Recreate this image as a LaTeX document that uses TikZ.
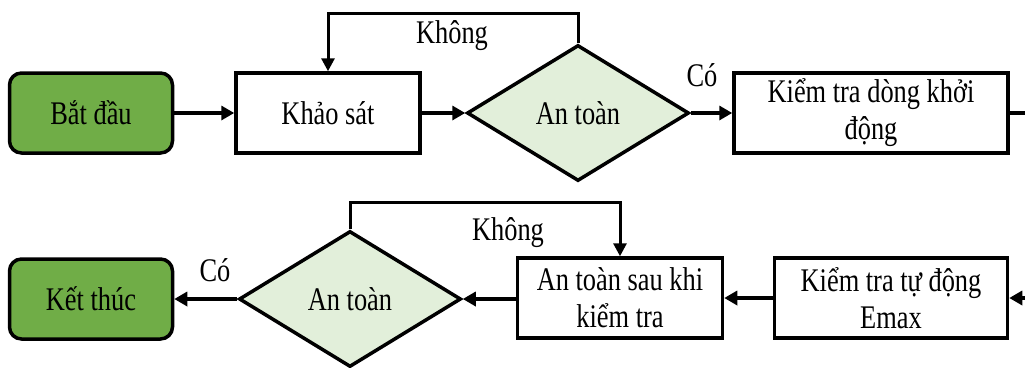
\documentclass[tikz,border=0pt]{standalone}
\usepackage{fontspec}
\setmainfont[FakeStretch=0.8]{Liberation Serif}
\usetikzlibrary{shapes.geometric,arrows.meta}
\definecolor{startgreen}{HTML}{70AD47}
\definecolor{lightgreen}{HTML}{E2EFDA}
\tikzset{
  every node/.style={font=\fontsize{33}{37}\selectfont},
  term/.style={draw, line width=3.5pt, rounded corners=12pt, fill=startgreen, minimum width=163pt, minimum height=80pt, inner sep=0pt},
  proc/.style={draw, line width=3.5pt, fill=white, minimum height=80pt, inner sep=0pt, align=center},
  dec/.style={draw, line width=3.5pt, diamond, fill=lightgreen, inner sep=0pt, shape aspect=1.6, minimum width=222pt, minimum height=136pt},
  flow/.style={line width=4.5pt, -{Triangle[length=13pt,width=14pt]}},
  loop/.style={line width=3pt, -{Triangle[length=13pt,width=13pt]}},
  lbl/.style={inner sep=0pt}
}
\begin{document}
\begin{tikzpicture}[x=1pt,y=-1pt]
\useasboundingbox (0,0) rectangle (1025,367);
% top row
\node[term] (start) at (91,113) {Bắt đầu};
\node[proc, minimum width=184pt] (survey) at (328,113) {Khảo sát};
\node[dec] (safe1) at (578,113) {An toàn};
\node[proc, minimum width=274pt] (inrush) at (871,113) {Kiểm tra dòng khởi\\động};
\coordinate (outR) at (1025,113);
% bottom row
\node[term] (end) at (91,299) {Kết thúc};
\node[dec] (safe2) at (350,299) {An toàn};
\node[proc, minimum width=205pt] (after) at (620,298) {An toàn sau khi\\kiểm tra};
\node[proc, minimum width=233pt] (emax) at (891,298) {Kiểm tra tự động\\Emax};
\coordinate (inR) at (1025,298);
% connectors top
\draw[flow] (start) -- (survey);
\draw[flow] (survey) -- (safe1.west);
\draw[flow] (safe1.east) -- (inrush.west);
\draw[line width=4.5pt] (inrush.east) -- (outR);
\draw[loop] (safe1.north) -- (578,13) -| (survey.north);
\node[lbl] (no1) at (452,36) {Không};
\node[lbl] (yes1) at (702,75) {Có};
% connectors bottom
\draw[flow] (inR) -- (emax.east);
\draw[flow] (emax.west) -- (after.east);
\draw[flow] (after.west |- safe2.east) -- (safe2.east);
\draw[flow] (safe2.west) -- (end.east);
\draw[loop] (safe2.north) -- (350,202) -| (after.north);
\node[lbl] (no2) at (508,233) {Không};
\node[lbl] (yes2) at (215,270) {Có};
\end{tikzpicture}
\end{document}
